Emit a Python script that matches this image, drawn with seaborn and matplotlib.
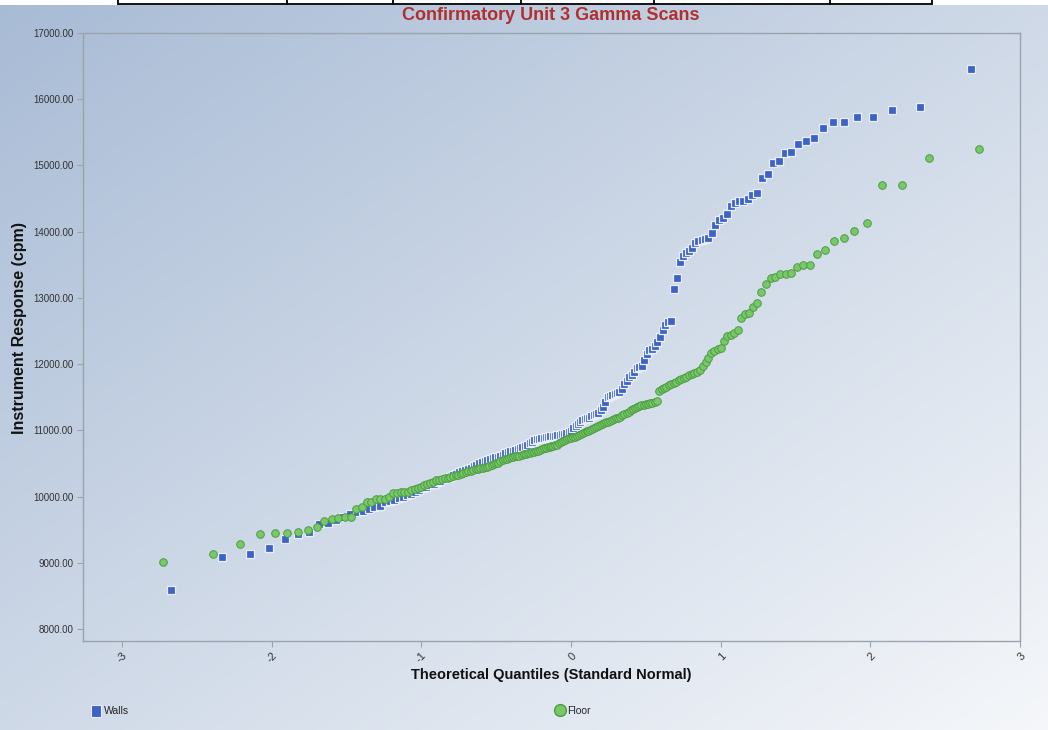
import matplotlib
matplotlib.use("Agg")
import numpy as np
import pandas as pd
import matplotlib.pyplot as plt
import seaborn as sns
from statistics import NormalDist
from matplotlib.lines import Line2D
from matplotlib.patches import Rectangle, Patch
from matplotlib.ticker import FixedLocator, FuncFormatter

# ---------------- data (sorted sample values) ----------------
title = "Confirmatory Unit 3 Gamma Scans"
x_label = "Theoretical Quantiles (Standard Normal)"
y_label = "Instrument Response (cpm)"
series_names = ["Walls", "Floor"]

walls = [8589, 9087, 9132, 9223, 9359, 9434, 9465, 9585, 9600, 9646,
         9691, 9736, 9767, 9782, 9812, 9842, 9857, 9918, 9933, 9948,
         9978, 9993, 10023, 10038, 10069, 10099, 10129, 10144, 10174, 10189,
         10220, 10235, 10265, 10280, 10295, 10325, 10340, 10371, 10386, 10401,
         10416, 10431, 10461, 10476, 10507, 10522, 10537, 10552, 10567, 10582,
         10597, 10597, 10612, 10627, 10658, 10673, 10688, 10688, 10703, 10718,
         10733, 10748, 10763, 10778, 10809, 10824, 10854, 10869, 10869, 10884,
         10884, 10899, 10899, 10914, 10914, 10914, 10929, 10929, 10945, 10945,
         10960, 10975, 10990, 11035, 11065, 11096, 11126, 11156, 11171, 11186,
         11186, 11216, 11231, 11246, 11262, 11307, 11352, 11428, 11503, 11518,
         11533, 11548, 11564, 11579, 11624, 11700, 11745, 11805, 11835, 11881,
         11941, 11956, 11971, 12062, 12153, 12213, 12228, 12273, 12334, 12409,
         12515, 12591, 12636, 12651, 13134, 13300, 13542, 13632, 13678, 13708,
         13754, 13829, 13859, 13874, 13889, 13904, 13980, 14101, 14176, 14206,
         14267, 14388, 14433, 14463, 14463, 14493, 14554, 14584, 14810, 14871,
         15037, 15067, 15188, 15203, 15324, 15369, 15414, 15565, 15656, 15656,
         15731, 15731, 15837, 15882, 16456]

floor = [9012, 9132, 9283, 9434, 9450, 9450, 9465, 9495, 9540, 9630,
         9661, 9676, 9691, 9691, 9812, 9842, 9918, 9918, 9963, 9963,
         9963, 9993, 10053, 10061, 10069, 10069, 10076, 10099, 10114, 10137,
         10152, 10174, 10189, 10212, 10227, 10250, 10257, 10265, 10280, 10288,
         10303, 10310, 10325, 10333, 10348, 10355, 10371, 10386, 10393, 10401,
         10416, 10423, 10431, 10439, 10446, 10454, 10469, 10476, 10491, 10507,
         10514, 10537, 10552, 10567, 10574, 10582, 10597, 10605, 10612, 10612,
         10620, 10627, 10642, 10650, 10658, 10665, 10673, 10680, 10688, 10695,
         10710, 10725, 10733, 10740, 10748, 10756, 10763, 10771, 10778, 10786,
         10809, 10824, 10839, 10854, 10869, 10884, 10892, 10899, 10907, 10914,
         10929, 10945, 10960, 10975, 10990, 10997, 11005, 11028, 11043, 11058,
         11073, 11081, 11096, 11111, 11126, 11133, 11148, 11156, 11171, 11186,
         11194, 11209, 11231, 11246, 11262, 11284, 11307, 11322, 11337, 11352,
         11367, 11382, 11390, 11398, 11398, 11413, 11420, 11435, 11443, 11594,
         11624, 11647, 11662, 11684, 11700, 11715, 11737, 11760, 11775, 11790,
         11813, 11835, 11850, 11866, 11881, 11911, 11971, 12032, 12092, 12168,
         12198, 12228, 12243, 12349, 12425, 12440, 12470, 12515, 12696, 12757,
         12772, 12862, 12923, 13089, 13210, 13300, 13315, 13361, 13361, 13376,
         13466, 13496, 13496, 13663, 13723, 13859, 13904, 14017, 14131, 14705,
         14705, 15112, 15248]

x_ticks = [-3, -2, -1, 0, 1, 2, 3]
y_ticks = [8000, 9000, 10000, 11000, 12000, 13000, 14000, 15000, 16000, 17000]


# ---------------- normal Q-Q transform ----------------
def qq_frame(values, name):
    n = len(values)
    nd = NormalDist()
    srt = sorted(values)
    q = [nd.inv_cdf((i - 0.375) / (n + 0.25)) for i in range(1, n + 1)]
    return pd.DataFrame({"quantile": q, "response": srt, "series": name})


df = pd.concat([qq_frame(walls, series_names[0]), qq_frame(floor, series_names[1])],
               ignore_index=True)

# ---------------- style ----------------
sns.set_theme(style="white")
plt.rcParams["font.family"] = ["Liberation Sans", "DejaVu Sans"]

W, H = 1048, 730
fig = plt.figure(figsize=(W / 100, H / 100), dpi=100)

# gradient background
bg = fig.add_axes([0, 0, 1, 1], zorder=-10)
yy, xx = np.mgrid[0:H, 0:W]
t = (xx / W) * 0.5 + (yy / H) * 0.5
c0 = np.array([0xA8, 0xBB, 0xD5]) / 255.0
c1 = np.array([0xF5, 0xF7, 0xFA]) / 255.0
img = c0[None, None, :] * (1 - t[..., None]) + c1[None, None, :] * t[..., None]
bg.imshow(img, aspect="auto", extent=[0, 1, 0, 1], origin="upper")
bg.set_axis_off()

# white strip with table fragment on top
fig.add_artist(Rectangle((0, 1 - 5 / H), 1, 5 / H, transform=fig.transFigure,
                         facecolor="white", edgecolor="none", zorder=5))
fig.add_artist(Line2D([118 / W, 932 / W], [1 - 4 / H, 1 - 4 / H],
                      transform=fig.transFigure, color="black", lw=1.3, zorder=6))
for vx in [118, 287, 393, 521, 654, 830, 932]:
    fig.add_artist(Line2D([vx / W, vx / W], [1, 1 - 4 / H],
                          transform=fig.transFigure, color="black", lw=1.3, zorder=6))

# main axes
left, right, top, bottom = 83, 1020, 33, 641
ax = fig.add_axes([left / W, 1 - bottom / H, (right - left) / W, (bottom - top) / H])
ax.set_facecolor("none")

walls_df = df[df["series"] == series_names[0]]
floor_df = df[df["series"] == series_names[1]]

sns.scatterplot(data=walls_df, x="quantile", y="response", ax=ax, marker="s",
                s=30, color="#3D63C8", edgecolor="#E9EFFA", linewidth=0.9,
                legend=False, zorder=3)
sns.scatterplot(data=floor_df, x="quantile", y="response", ax=ax, marker="o",
                s=30, color="#78C86A", edgecolor="#4C9C42", linewidth=0.7,
                legend=False, zorder=4)

ax.set_xlim(-3.26, 3.0)
ax.set_ylim(7820, 17000)
ax.xaxis.set_major_locator(FixedLocator(x_ticks))
ax.yaxis.set_major_locator(FixedLocator(y_ticks))
ax.yaxis.set_major_formatter(FuncFormatter(lambda v, p: f"{v:.2f}"))
ax.set_xticklabels([str(v) for v in x_ticks], rotation=45, ha="right",
                   rotation_mode="anchor")

for sp in ax.spines.values():
    sp.set_color("#9AA3AE")
    sp.set_linewidth(1.0)

ax.tick_params(axis="both", which="major", direction="out", length=4, width=0.8,
               color="#9AA3AE", labelcolor="#333333")
ax.tick_params(axis="y", labelsize=7, pad=3)
ax.tick_params(axis="x", labelsize=8, pad=3, bottom=True)
ax.tick_params(axis="y", left=True)

ax.set_xlabel(x_label, fontsize=10.5, fontweight="bold", color="#111111", va="center")
ax.xaxis.set_label_coords(0.5, -(675 - bottom) / (bottom - top))
ax.set_ylabel(y_label, fontsize=11.5, fontweight="bold", color="#111111", va="center")
ax.yaxis.set_label_coords(-(left - 20) / (right - left), 0.515)

fig.text(551 / W, 1 - 16 / H, title, ha="center", va="center", fontsize=13,
         fontweight="bold", color="#B0302F")

# legend
h_walls = Patch(facecolor="#3D63C8", edgecolor="#E9EFFA", linewidth=0.8)
h_floor = Line2D([], [], marker="o", linestyle="none", markersize=8.5,
                 markerfacecolor="#78C86A", markeredgecolor="#4C9C42")
fig.legend(handles=[h_walls], labels=[series_names[0]], loc="center left",
           bbox_to_anchor=(86 / W, 1 - 711 / H), frameon=False, fontsize=7.5,
           handlelength=0.9, handleheight=1.3, handletextpad=0.3, borderpad=0)
fig.legend(handles=[h_floor], labels=[series_names[1]], loc="center left",
           bbox_to_anchor=(550 / W, 1 - 711 / H), frameon=False, fontsize=7.5,
           handlelength=1.0, handletextpad=0.1, borderpad=0)

fig.savefig("out.png", dpi=100)
